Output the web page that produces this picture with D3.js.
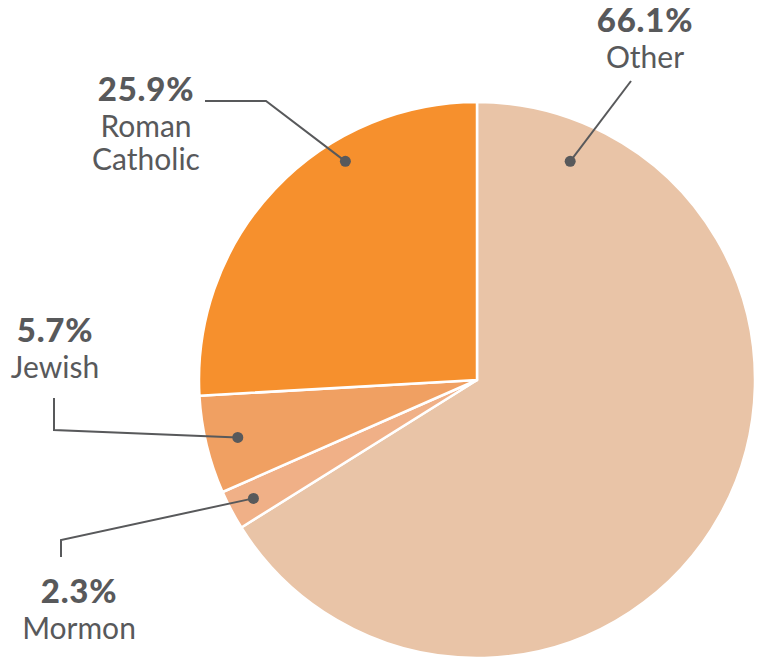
<!DOCTYPE html>
<html><head><meta charset="utf-8">
<script src="https://cdn.jsdelivr.net/npm/d3@7/dist/d3.min.js"></script>
<style>body{margin:0;background:#fff}svg{display:block}</style>
</head><body>
<svg id="c" width="763" height="659"></svg>
<script>
const categories = ["Other", "Mormon", "Jewish", "Roman Catholic"];
const values = [66.1, 2.3, 5.7, 25.9];
const valueLabels = ["66.1%", "2.3%", "5.7%", "25.9%"];
const nameLines = [["Other"], ["Mormon"], ["Jewish"], ["Roman", "Catholic"]];
const colors = ["#E9C4A7", "#F0B087", "#F0A062", "#F6902D"];

// layout of annotations (dot position along slice, text position, leader bends)
const layout = [
  {frac: 0.097, rf: 0.855, tx: 645, ty: 32, bend: [[631, 81]]},
  {frac: 0.5, rf: 0.91, tx: 79, ty: 603, bend: [[61, 540], [61, 557]]},
  {frac: 0.5, rf: 0.885, tx: 55, ty: 342, bend: [[54, 430], [54, 398]]},
  {frac: 0.667, rf: 0.918, tx: 146, ty: 101, bend: [[266, 101], [205, 101]]}
];

const cx = 477, cy = 380, R = 278;
const svg = d3.select("#c");
const g = svg.append("g").attr("transform", `translate(${cx},${cy})`);

const pie = d3.pie().sort(null).value(d => d)(values);
const arc = d3.arc().innerRadius(0).outerRadius(R);

g.selectAll("path.s").data(pie).join("path")
  .attr("class", "s")
  .attr("d", arc)
  .attr("fill", (d, i) => colors[i])
  .attr("stroke", "#fff")
  .attr("stroke-width", 2.5)
  .attr("stroke-linejoin", "round");

const ink = "#58595B";
pie.forEach((d, i) => {
  const L = layout[i];
  const a = d.startAngle + (d.endAngle - d.startAngle) * L.frac;
  const r = R * L.rf;
  const px = cx + r * Math.sin(a), py = cy - r * Math.cos(a);
  const pts = [[px, py]].concat(L.bend);
  svg.append("path")
    .attr("d", d3.line()(pts))
    .attr("fill", "none").attr("stroke", ink).attr("stroke-width", 2);
  svg.append("circle").attr("cx", px).attr("cy", py).attr("r", 5.5).attr("fill", ink);
  const t = svg.append("text").attr("text-anchor", "middle").attr("fill", ink)
    .attr("font-family", "Lato, 'Open Sans', sans-serif");
  t.append("tspan").attr("x", L.tx).attr("y", L.ty)
    .attr("font-weight", 900).attr("font-size", 33).attr("letter-spacing", 0.8).text(valueLabels[i]);
  nameLines[i].forEach((ln, k) => {
    t.append("tspan").attr("x", L.tx).attr("y", L.ty + 36 + k * 33)
      .attr("font-weight", 400).attr("font-size", 30).attr("letter-spacing", 0).text(ln);
  });
});
</script>
</body></html>
